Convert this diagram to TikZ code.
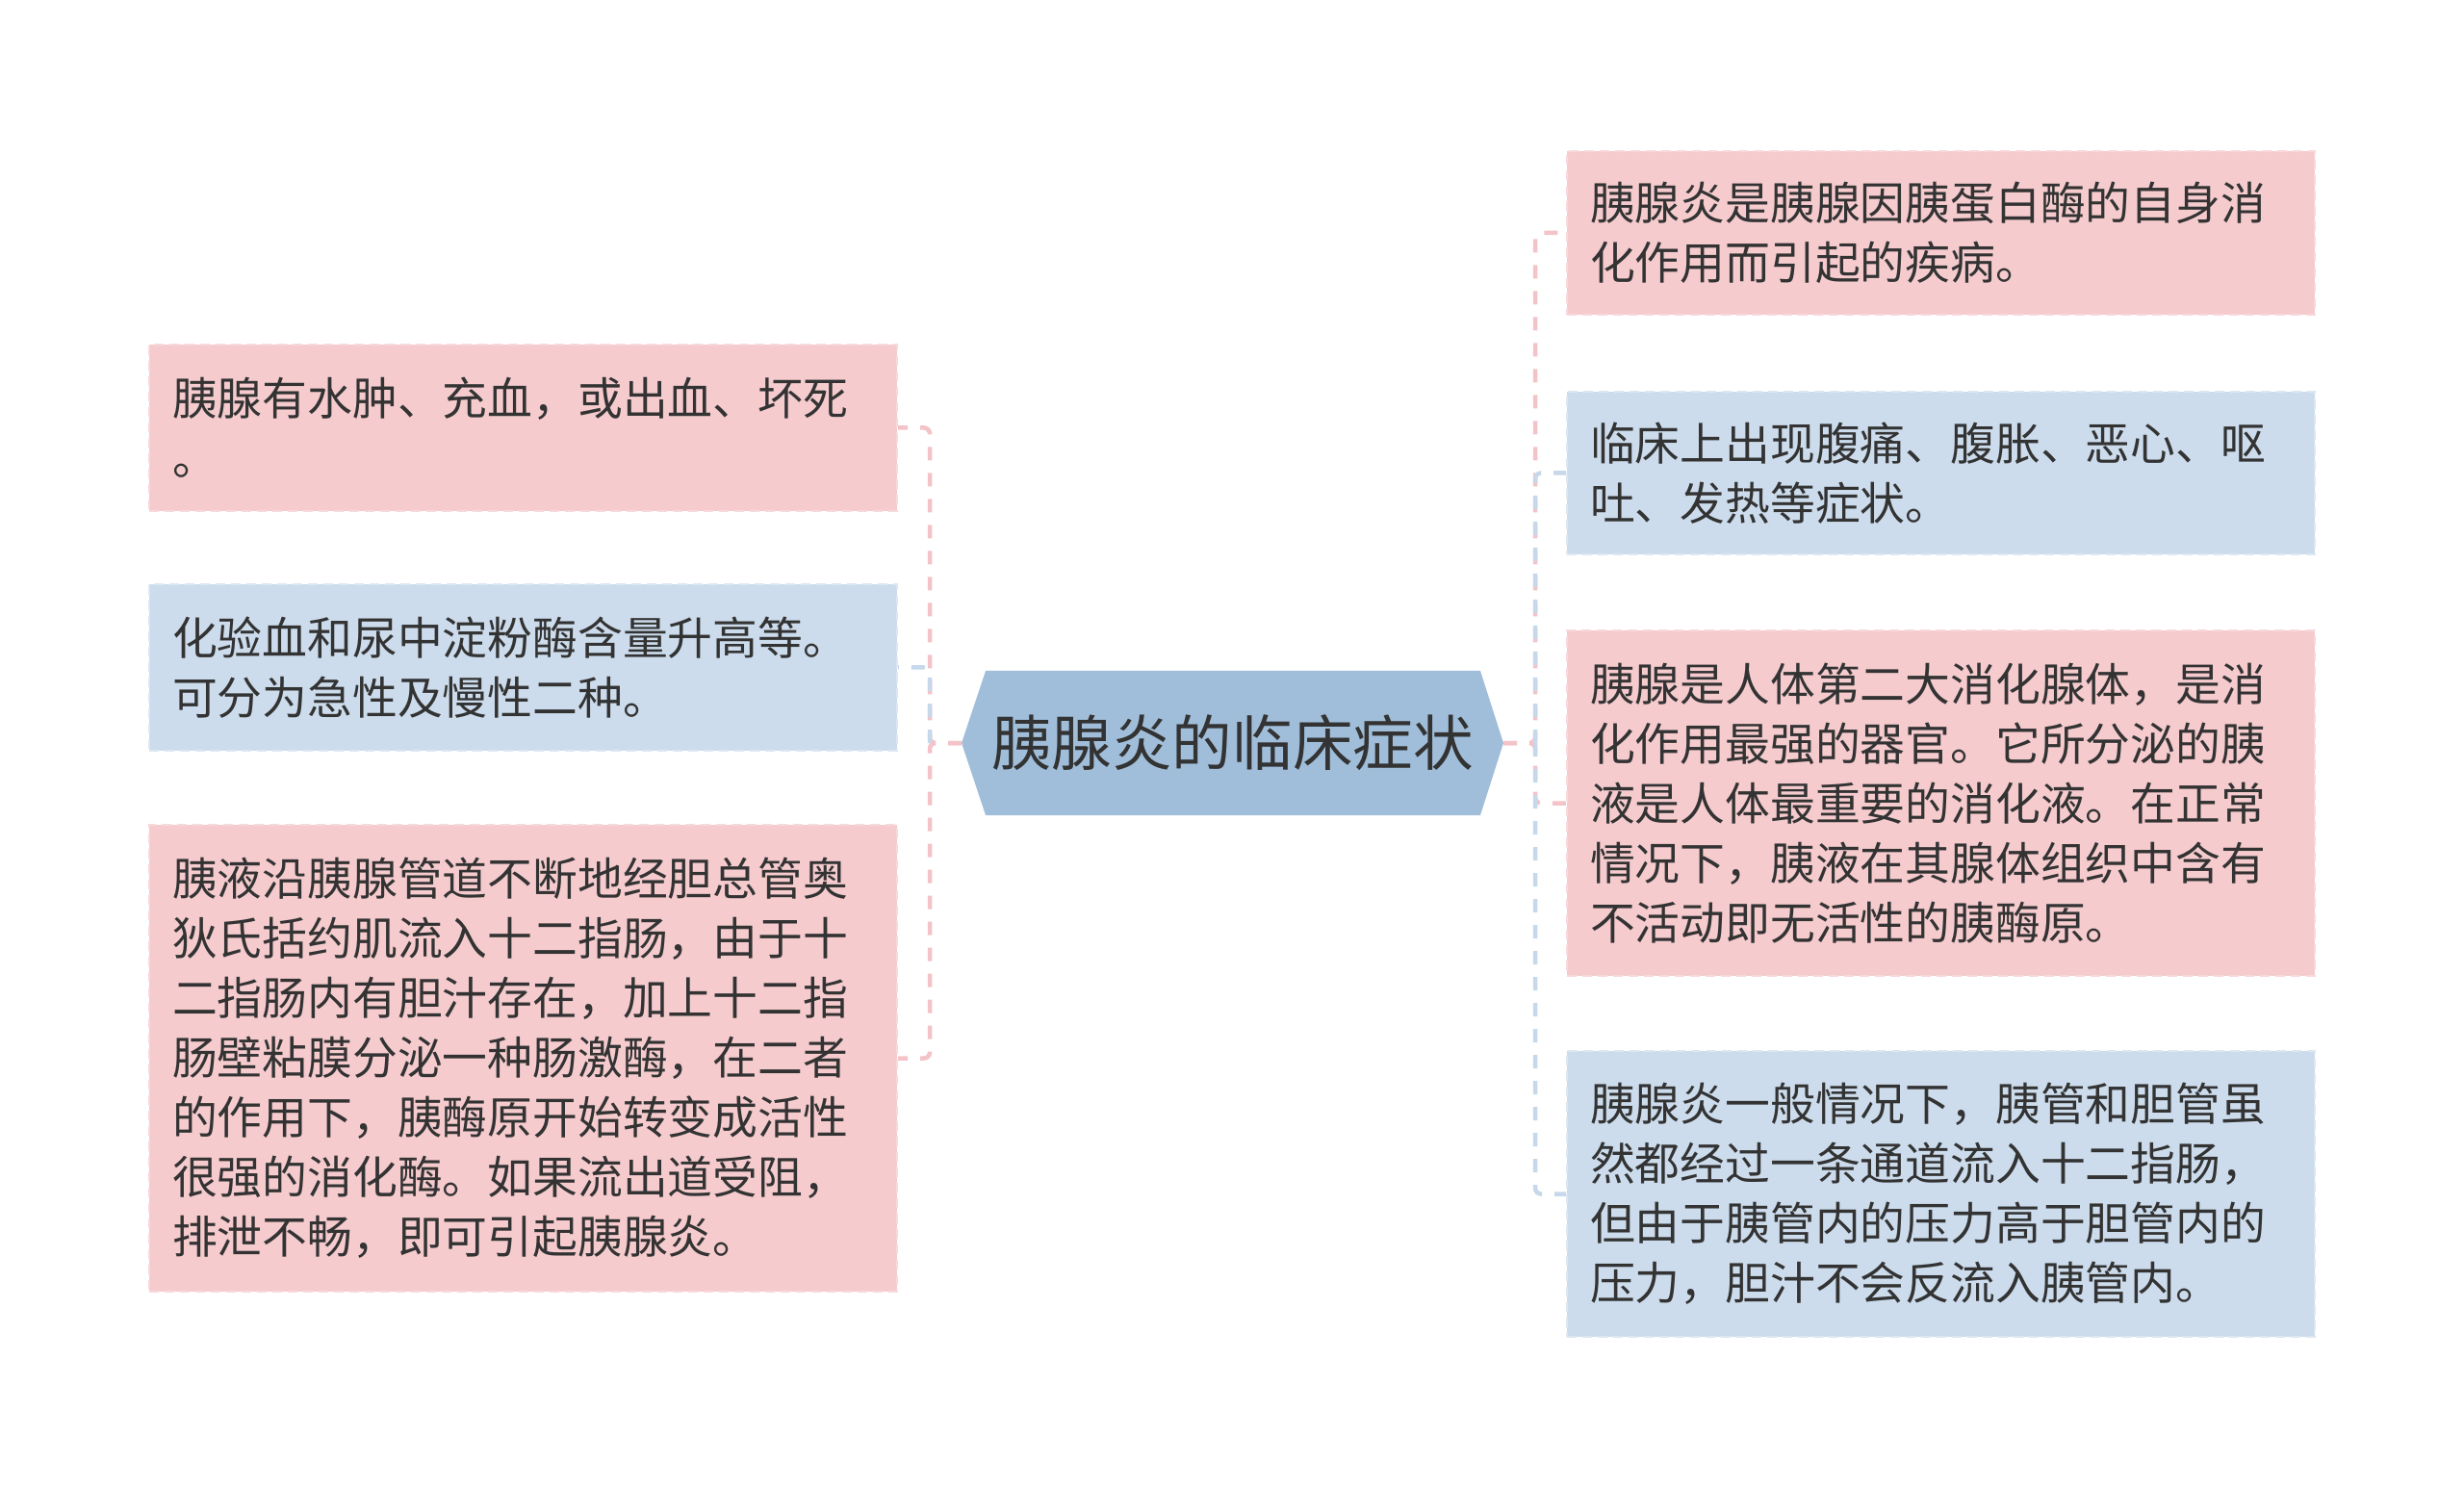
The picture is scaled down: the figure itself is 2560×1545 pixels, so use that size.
\documentclass[tikz,border=0pt]{standalone}
\usepackage{fontspec}
\setmainfont{Noto Sans CJK SC}
\definecolor{pinkfill}{HTML}{F5CBCE}
\definecolor{pinkedge}{HTML}{F8D9DB}
\definecolor{bluefill}{HTML}{CCDCEC}
\definecolor{blueedge}{HTML}{DCE7F2}
\definecolor{pinkline}{HTML}{F3C3C7}
\definecolor{blueline}{HTML}{C6D8EA}
\definecolor{hexfill}{HTML}{A0BEDA}
\definecolor{txt}{HTML}{333333}
\tikzset{
  leaf/.style={draw=#1edge, fill=#1fill, dashed, dash pattern=on 5pt off 3pt, line width=1pt,
    text width=364.5pt, inner xsep=12pt, inner ysep=0pt, align=left, text=txt,
    font=\fontsize{23.4}{31}\selectfont},
  link/.style={draw=#1line, line width=2.25pt, dash pattern=on 7pt off 6.5pt, rounded corners=3pt},
}
\begin{document}
\begin{tikzpicture}[x=0.5pt,y=-0.5pt]
\useasboundingbox (0,0) rectangle (2560,1545);
% central hexagon
\fill[hexfill] (999,772) -- (1024,697) -- (1538,697) -- (1562,772) -- (1538,847) -- (1024,847) -- cycle;
\node[text=txt, font=\fontsize{31.3}{36}\selectfont, inner sep=0pt] (c) at (1280.5,772) {胰腺炎的临床症状};
\coordinate (cl) at (999,772);
\coordinate (cr) at (1562,772);
\coordinate (ls) at (966,772);
\coordinate (rs) at (1595,772);
% left boxes
\node[leaf=pink, minimum height=86.5pt] (L1) at (543.5,444.5) {胰腺有水肿、充血，或出血、坏死\\。};
\node[leaf=blue, minimum height=86.5pt] (L2) at (543.5,693.5) {化验血和尿中淀粉酶含量升高等。\\可分为急性及慢性二种。};
\node[leaf=pink, minimum height=242.5pt] (L3) at (543.5,1099.5) {胰液沿胰腺管道不断地经胆总管奥\\狄氏括约肌流入十二指肠，由于十\\二指肠内有胆汁存在，加上十二指\\肠壁粘膜分泌一种肠激酶，在二者\\的作用下，胰酶原开始转变成活性\\很强的消化酶。如果流出道受阻，\\排泄不畅，即可引起胰腺炎。};
% right boxes
\node[leaf=pink, minimum height=85pt] (R1) at (2016.5,242) {胰腺炎是胰腺因胰蛋白酶的自身消\\化作用而引起的疾病。};
\node[leaf=blue, minimum height=84.5pt] (R2) at (2016.5,491.5) {临床上出现腹痛、腹胀、恶心、呕\\吐、发热等症状。};
\node[leaf=pink, minimum height=179.5pt] (R3) at (2016.5,834.5) {胰腺是人体第二大消化腺体，是消\\化作用最强的器官。它所分泌的胰\\液是人体最重要的消化液。在正常\\情况下，胰液在其腺体组织中含有\\不活动即无活性的胰酶原。};
\node[leaf=blue, minimum height=148.5pt] (R4) at (2016.5,1240.5) {胰腺炎一般情况下，胰管和胆管虽\\然都经过一条通道流入十二指肠，\\但由于胰管内的压力高于胆管内的\\压力，胆汁不会反流入胰管内。};
% connectors: pink first, blue on top
\draw[link=pink] (cl) -- (ls) |- (L1.east);
\draw[link=pink] (cl) -- (ls) |- (L3.east);
\draw[link=pink] (cr) -- (rs) |- (R1.west);
\draw[link=pink] (cr) -- (rs) |- (R3.west);
\draw[link=blue] (ls) |- (L2.east);
\draw[link=blue] (rs) |- (R2.west);
\draw[link=blue] (rs) |- (R4.west);
\end{tikzpicture}
\end{document}
